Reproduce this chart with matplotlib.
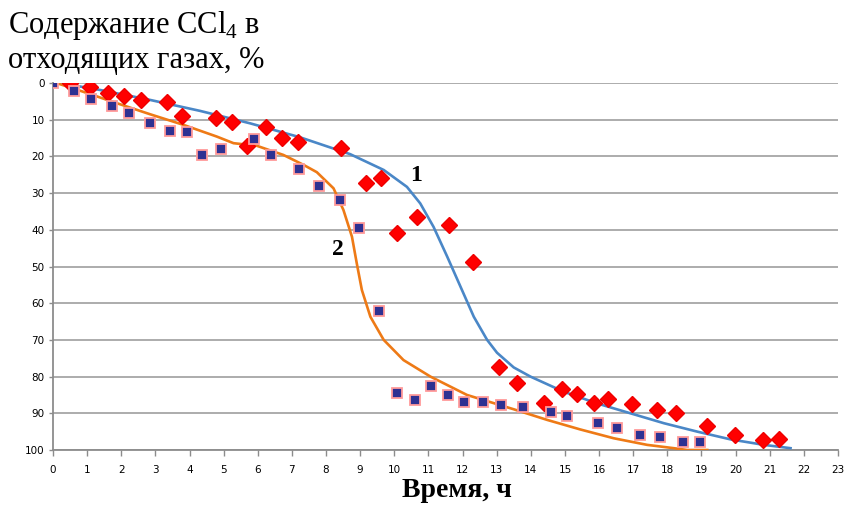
import matplotlib
matplotlib.use("Agg")
import matplotlib.pyplot as plt

# Экспериментальные точки, серия 1 (ромбы)
t1 = [0.5, 1.08, 1.62, 2.09, 2.58, 3.33, 3.77, 4.78, 5.24, 5.68, 6.24, 6.70, 7.18,
      8.44, 9.17, 9.61, 10.08, 10.66, 11.61, 12.31, 13.08, 13.60, 14.38, 14.90,
      15.34, 15.85, 16.26, 16.97, 17.70, 18.24, 19.15, 19.97, 20.80, 21.27]
c1 = [0.0, 1.2, 2.8, 3.5, 4.6, 5.3, 8.9, 9.6, 10.5, 17.2, 12.1, 14.9, 16.2,
      17.6, 27.3, 26.0, 41.0, 36.6, 38.7, 48.7, 77.3, 81.8, 87.3, 83.5,
      84.7, 87.3, 86.2, 87.5, 89.1, 90.0, 93.4, 95.9, 97.3, 97.0]

# Экспериментальные точки, серия 2 (квадраты)
t2 = [0.0, 0.62, 1.11, 1.74, 2.23, 2.84, 3.44, 3.92, 4.38, 4.93, 5.90, 6.38, 7.21,
      7.78, 8.42, 8.98, 9.54, 10.08, 10.60, 11.08, 11.57, 12.03, 12.59, 13.14,
      13.76, 14.60, 15.06, 15.97, 16.53, 17.21, 17.78, 18.47, 18.95]
c2 = [0.1, 2.2, 4.4, 6.3, 8.3, 10.8, 13.0, 13.3, 19.6, 18.0, 15.3, 19.6, 23.4,
      28.1, 31.9, 39.4, 62.1, 84.6, 86.4, 82.5, 85.0, 86.8, 87.0, 87.7,
      88.4, 89.6, 90.6, 92.7, 94.1, 95.9, 96.4, 97.7, 97.7]

# Расчётная кривая 1
curve1_t = [0.2, 1.38, 2.84, 4.31, 5.78, 7.24, 8.71, 9.69, 10.37, 10.76, 11.15,
            11.55, 11.94, 12.33, 12.72, 13.01, 13.50, 13.99, 14.96, 15.94, 16.92,
            17.90, 18.88, 19.85, 20.83, 21.61]
curve1_c = [0.0, 1.9, 4.6, 7.6, 11.0, 14.8, 19.4, 23.7, 28.3, 32.8, 39.2,
            47.3, 55.5, 63.7, 70.0, 73.5, 77.5, 80.0, 84.1, 87.3, 90.0,
            92.7, 95.0, 97.1, 98.6, 99.5]

# Расчётная кривая 2
curve2_t = [0.1, 0.89, 1.87, 2.84, 3.82, 4.80, 5.29, 5.97, 6.75, 7.34, 7.73,
            8.22, 8.51, 8.76, 8.90, 9.05, 9.30, 9.69, 10.27, 11.06, 12.13,
            13.50, 14.48, 15.45, 16.43, 17.41, 18.19, 18.58, 19.17]
curve2_c = [0.0, 2.4, 5.5, 8.5, 11.4, 14.6, 16.4, 17.1, 19.6, 22.3, 24.3,
            28.7, 34.6, 41.9, 49.1, 56.4, 63.7, 70.0, 75.5, 80.0, 85.0,
            88.9, 91.8, 94.4, 96.8, 98.6, 99.5, 100.0, 100.0]

x_ticks = list(range(0, 24))
y_ticks = list(range(0, 101, 10))

plt.rcParams['mathtext.fontset'] = 'custom'
plt.rcParams['mathtext.rm'] = 'Liberation Serif'

fig = plt.figure(figsize=(8.45, 5.07), dpi=100)
ax = fig.add_axes([0.0627, 0.1124, 0.929, 0.7239])

ax.plot(curve1_t, curve1_c, color='#4a87c7', lw=1.9, zorder=3,
        solid_joinstyle='round')
ax.plot(curve2_t, curve2_c, color='#ee7a16', lw=1.9, zorder=3,
        solid_joinstyle='round')
ax.plot(t1, c1, linestyle='none', marker='D', ms=8.3, color='#ff0000',
        mec='#ee0000', zorder=4)
ax.plot(t2, c2, linestyle='none', marker='s', ms=7.3, mfc='#2e3192',
        mec='#ff9a9a', mew=1.3, zorder=5)

ax.set_xlim(0, 23)
ax.set_ylim(100, 0)
ax.set_xticks(x_ticks)
ax.set_yticks(y_ticks)
ax.grid(axis='y', color='#a6a6a6', lw=1.3, zorder=0)
ax.set_axisbelow(True)

for s in ['top', 'right']:
    ax.spines[s].set_visible(False)
for s in ['left', 'bottom']:
    ax.spines[s].set_color('#8c8c8c')
    ax.spines[s].set_linewidth(1.3)

ax.tick_params(axis='x', direction='out', length=4, width=1, color='#8c8c8c',
               labelsize=7.5, pad=7)
ax.tick_params(axis='y', direction='out', length=3, width=1, color='#8c8c8c',
               labelsize=7.5, pad=3)
for lab in ax.get_xticklabels() + ax.get_yticklabels():
    lab.set_family('DejaVu Sans')

ax.text(10.65, 25.1, '1', family='Liberation Serif', fontweight='bold',
        fontsize=17, ha='center', va='center')
ax.text(8.36, 45.5, '2', family='Liberation Serif', fontweight='bold',
        fontsize=17, ha='center', va='center')

fig.text(0.009, 0.983, 'Содержание CCl$_\\mathregular{4}$ в\nотходящих газах, %',
         family='Liberation Serif', fontsize=22, ha='left', va='top',
         linespacing=1.2)

fig.text(0.541, 0.02, 'Время, ч', family='Liberation Serif',
         fontweight='bold', fontsize=20, ha='center', va='baseline')

fig.savefig('out.png', dpi=100)
